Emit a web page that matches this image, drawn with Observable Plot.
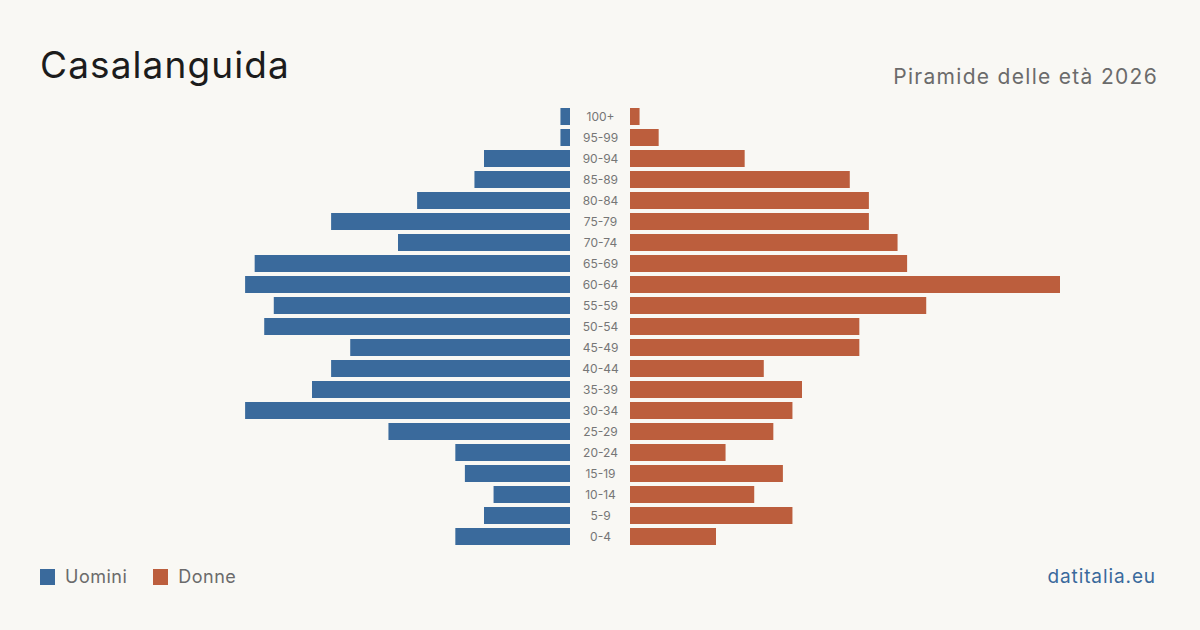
<!DOCTYPE html>
<html><head><meta charset="utf-8">
<script src="https://cdn.jsdelivr.net/npm/d3@7"></script>
<script src="https://cdn.jsdelivr.net/npm/@observablehq/plot@0.6"></script>
<style>
html,body{margin:0;padding:0;background:#f9f8f4;}
body{width:1200px;height:630px;position:relative;overflow:hidden;font-family:Inter,"Noto Sans",sans-serif;}
#title{position:absolute;left:40px;top:46px;font-size:37px;color:#1c1c1c;line-height:1;letter-spacing:1.1px;}
#subtitle{position:absolute;right:42px;top:66px;font-size:21px;color:#6b6b6b;line-height:1;letter-spacing:1.3px;}
#chart{position:absolute;left:0;top:0;}
#legend{position:absolute;left:40px;top:567px;font-size:18px;color:#6b6b6b;display:flex;align-items:center;line-height:20px;letter-spacing:0.5px;}
#legend .sw{width:15px;height:16px;display:inline-block;margin-right:10px;}
#legend .item{display:flex;align-items:center;margin-right:26px;}
#source{position:absolute;right:44px;top:567px;font-size:19px;color:#3a6a9c;line-height:20px;letter-spacing:0.9px;}
</style></head>
<body>
<div id="chart"></div>
<div id="title">Casalanguida</div>
<div id="subtitle">Piramide delle età 2026</div>
<div id="legend"></div>
<div id="source">datitalia.eu</div>
<script>
const ageGroups = ["100+","95-99","90-94","85-89","80-84","75-79","70-74","65-69","60-64","55-59","50-54","45-49","40-44","35-39","30-34","25-29","20-24","15-19","10-14","5-9","0-4"];
const males   = [1,1,9,10,16,25,18,33,34,31,32,23,25,27,34,19,12,11,8,9,12];
const females = [1,3,12,23,25,25,28,29,45,31,24,24,14,18,17,15,10,16,13,17,9];
const seriesNames = ["Uomini","Donne"];
const seriesColors = ["#3a6a9c","#bc5e3d"];

const maxV = 45;
const gap = maxV * 30 / 430; // half of the central label gap, in data units

const rows = ageGroups.map((a,i)=>({age:a, m:males[i], f:females[i]}));

const chart = Plot.plot({
  width: 1200,
  height: 560,
  marginLeft: 140,
  marginRight: 140,
  marginTop: 103.4,
  marginBottom: 11.4,
  style: {background: "transparent", fontFamily: "Inter, 'Noto Sans', sans-serif"},
  x: {domain: [-(maxV + gap), maxV + gap], axis: null},
  y: {domain: ageGroups, padding: 0.2, axis: null},
  marks: [
    Plot.rectX(rows, {y: "age", x1: -gap, x2: d => -gap - d.m, fill: seriesColors[0]}),
    Plot.rectX(rows, {y: "age", x1: gap, x2: d => gap + d.f, fill: seriesColors[1]}),
    Plot.text(rows, {y: "age", x: 0, text: "age", fill: "#767676", fontSize: 12, textAnchor: "middle", style: "letter-spacing:0.4px"})
  ]
});
document.getElementById("chart").appendChild(chart);

const legend = document.getElementById("legend");
seriesNames.forEach((n,i)=>{
  const it = document.createElement("span");
  it.className = "item";
  it.innerHTML = `<span class="sw" style="background:${seriesColors[i]}"></span>${n}`;
  legend.appendChild(it);
});
</script>
</body></html>
